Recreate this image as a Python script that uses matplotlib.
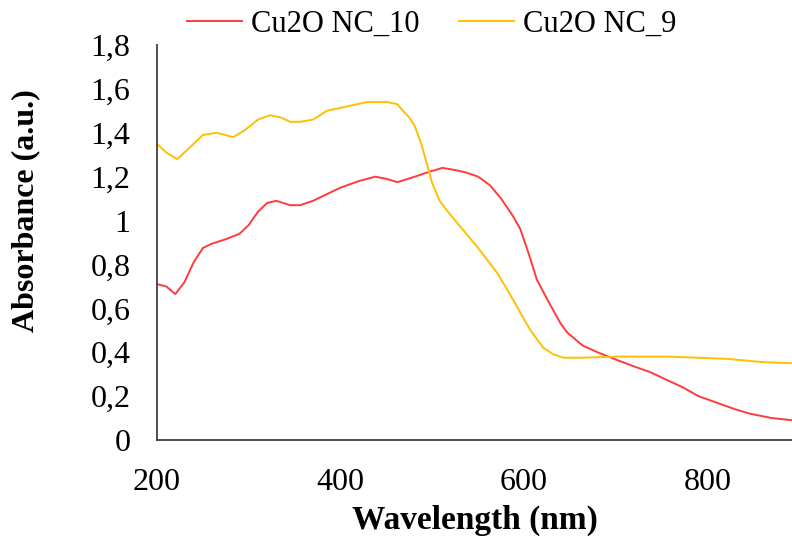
import matplotlib
matplotlib.use('Agg')
import matplotlib.pyplot as plt
from matplotlib.ticker import FuncFormatter

# Cu2O NC_10 (red)
wl_10 = [200, 210, 220, 230, 240, 250, 260, 275, 290, 300, 310, 320, 330, 345,
         356, 370, 385, 400, 420, 438, 450, 462, 481, 495, 511, 525, 536, 550,
         563, 575, 588, 596, 605, 614, 628, 640, 647, 664, 680, 701, 720, 737,
         755, 773, 790, 810, 830, 846, 870, 892]
abs_10 = [0.71, 0.70, 0.665, 0.72, 0.81, 0.875, 0.895, 0.915, 0.94, 0.98, 1.04,
          1.08, 1.09, 1.07, 1.07, 1.09, 1.12, 1.15, 1.18, 1.20, 1.19, 1.175,
          1.20, 1.22, 1.24, 1.23, 1.22, 1.20, 1.16, 1.10, 1.02, 0.96, 0.85,
          0.73, 0.62, 0.53, 0.49, 0.43, 0.40, 0.365, 0.335, 0.31, 0.275, 0.24,
          0.20, 0.17, 0.14, 0.12, 0.10, 0.09]

# Cu2O NC_9 (yellow)
wl_9 = [200, 210, 222, 235, 250, 265, 283, 295, 310, 323, 335, 345, 356, 370,
        385, 407, 429, 451, 462, 468, 475, 481, 488, 494, 500, 508, 517, 527,
        549, 571, 588, 600, 607, 621, 632, 643, 664, 701, 756, 821, 860, 892]
abs_9 = [1.35, 1.31, 1.28, 1.33, 1.39, 1.40, 1.38, 1.41, 1.46, 1.48, 1.47, 1.45,
         1.45, 1.46, 1.50, 1.52, 1.54, 1.54, 1.53, 1.50, 1.47, 1.43, 1.35, 1.26,
         1.17, 1.09, 1.04, 0.99, 0.88, 0.76, 0.64, 0.55, 0.50, 0.42, 0.39, 0.375,
         0.375, 0.38, 0.38, 0.37, 0.355, 0.35]

x_ticks = [200, 400, 600, 800]
y_ticks = [0, 0.2, 0.4, 0.6, 0.8, 1.0, 1.2, 1.4, 1.6, 1.8]

plt.rcParams['font.family'] = ['Liberation Serif', 'DejaVu Serif']

fig = plt.figure(figsize=(7.92, 5.4), dpi=100)
ax = fig.add_axes([157 / 792, 100 / 540, 1 - 157 / 792, 395 / 540])

ax.plot(wl_10, abs_10, color='#FF3B3B', lw=1.4, label='Cu2O NC_10')
ax.plot(wl_9, abs_9, color='#FFC000', lw=1.4, label='Cu2O NC_9')

ax.set_xlim(200, 892)
ax.set_ylim(0, 1.8)
ax.set_xticks(x_ticks)
ax.set_yticks(y_ticks)

def comma(v, pos):
    s = ('%.1f' % v).rstrip('0').rstrip('.')
    return s.replace('.', ',')

ax.yaxis.set_major_formatter(FuncFormatter(comma))
ax.tick_params(length=0, labelsize=23)
ax.tick_params(axis='y', pad=19)
ax.tick_params(axis='x', pad=20)

for s in ['top', 'right']:
    ax.spines[s].set_visible(False)
for s in ['left', 'bottom']:
    ax.spines[s].set_color('#404040')
    ax.spines[s].set_linewidth(1.3)

ax.set_xlabel('Wavelength (nm)', fontsize=24, fontweight='bold', labelpad=6)
ax.set_ylabel('Absorbance (a.u.)', fontsize=23, fontweight='bold')
ax.yaxis.set_label_coords(-0.184, 0.58)

fig.legend(loc='center', bbox_to_anchor=(0.545, 0.955), ncol=2, frameon=False,
           fontsize=22, handlelength=1.8, handletextpad=0.3, columnspacing=1.3)

fig.savefig('out.png', dpi=100)
